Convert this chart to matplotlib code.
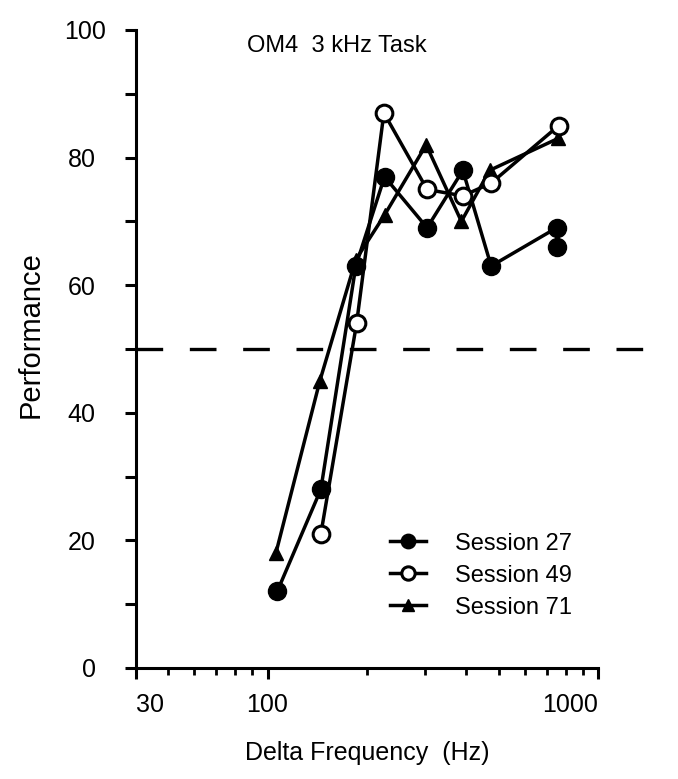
import matplotlib
matplotlib.use("Agg")
import matplotlib.pyplot as plt
from matplotlib.ticker import FixedLocator, NullFormatter
from matplotlib.transforms import ScaledTranslation

plt.rcParams['font.family'] = ['Liberation Sans', 'DejaVu Sans']

# Data
s27_freq = [107, 145, 185, 226, 304, 390, 475, 750, 750]
s27_perf = [12, 28, 63, 77, 69, 78, 63, 69, 66]
s49_freq = [145, 186, 225, 304, 390, 475, 760]
s49_perf = [21, 54, 87, 75, 74, 76, 85]
s71_freq = [106, 144, 185, 226, 302, 386, 470, 757]
s71_perf = [18, 45, 64, 71, 82, 70, 78, 83]

xtick_pos = [40, 100, 1000]
xtick_labels = ["30", "100", "1000"]
xminor_pos = [50, 60, 70, 80, 90, 200, 300, 400, 500, 600, 700, 800, 900]
ytick_pos = [0, 20, 40, 60, 80, 100]
yminor_pos = [10, 30, 50, 70, 90]
chance = 50

fig = plt.figure(figsize=(6.78, 7.79), dpi=100)
ax = fig.add_axes([0.2006, 0.1425, 0.6814, 0.819])

lw = 2.5
ax.plot(s27_freq, s27_perf, '-', color='black', lw=lw, marker='o', ms=13,
        mfc='black', mec='black', label='Session 27', zorder=3)
ax.plot(s49_freq, s49_perf, '-', color='black', lw=lw, marker='o', ms=12,
        mfc='white', mec='black', mew=2.2, label='Session 49', zorder=4)
ax.plot(s71_freq, s71_perf, '-', color='black', lw=lw, marker='^', ms=10.5,
        mfc='black', mec='black', label='Session 71', zorder=3)

ax.axhline(chance, xmin=0, xmax=1.102, color='black', lw=2.4,
           linestyle=(0, (8, 8)), zorder=2, clip_on=False)

ax.set_xscale('log')
ax.set_xlim(40, 1000)
ax.set_ylim(0, 100)

ax.xaxis.set_major_locator(FixedLocator(xtick_pos))
ax.set_xticklabels(xtick_labels)
ax.xaxis.set_minor_locator(FixedLocator(xminor_pos))
ax.xaxis.set_minor_formatter(NullFormatter())
ax.set_yticks(ytick_pos)
ax.set_yticks(yminor_pos, minor=True)

for s in ['top', 'right']:
    ax.spines[s].set_visible(False)
for s in ['left', 'bottom']:
    ax.spines[s].set_linewidth(2.2)

ax.tick_params(axis='x', which='major', direction='out', length=8, width=2.2,
               labelsize=18, pad=10)
ax.tick_params(axis='y', which='major', direction='out', length=8, width=2.2,
               labelsize=18, pad=21)
ax.tick_params(axis='x', which='minor', direction='out', length=5, width=2.0)
ax.tick_params(axis='y', which='minor', direction='out', length=8, width=2.2)

xl = ax.get_xticklabels()
xl[0].set_horizontalalignment('left')
xl[-1].set_horizontalalignment('right')
for lab in ax.get_yticklabels():
    if lab.get_text() == '100':
        lab.set_transform(lab.get_transform() +
                          ScaledTranslation(0.10, 0, fig.dpi_scale_trans))

ax.set_xlabel('Delta Frequency  (Hz)', fontsize=18)
ax.xaxis.set_label_coords(0.5, -0.115)
ax.set_ylabel('Performance', fontsize=21)
ax.yaxis.set_label_coords(-0.197, 0.522)

ax.text(0.435, 0.9655, 'OM4  3 kHz Task', transform=ax.transAxes, ha='center',
        va='baseline', fontsize=17)

leg = ax.legend(loc='upper left', bbox_to_anchor=(0.55, 0.212), frameon=False,
                fontsize=17, handlelength=1.5, handletextpad=1.25,
                labelspacing=0.42, borderaxespad=0, borderpad=0,
                markerscale=0.8)

fig.savefig('out.png', dpi=100)
